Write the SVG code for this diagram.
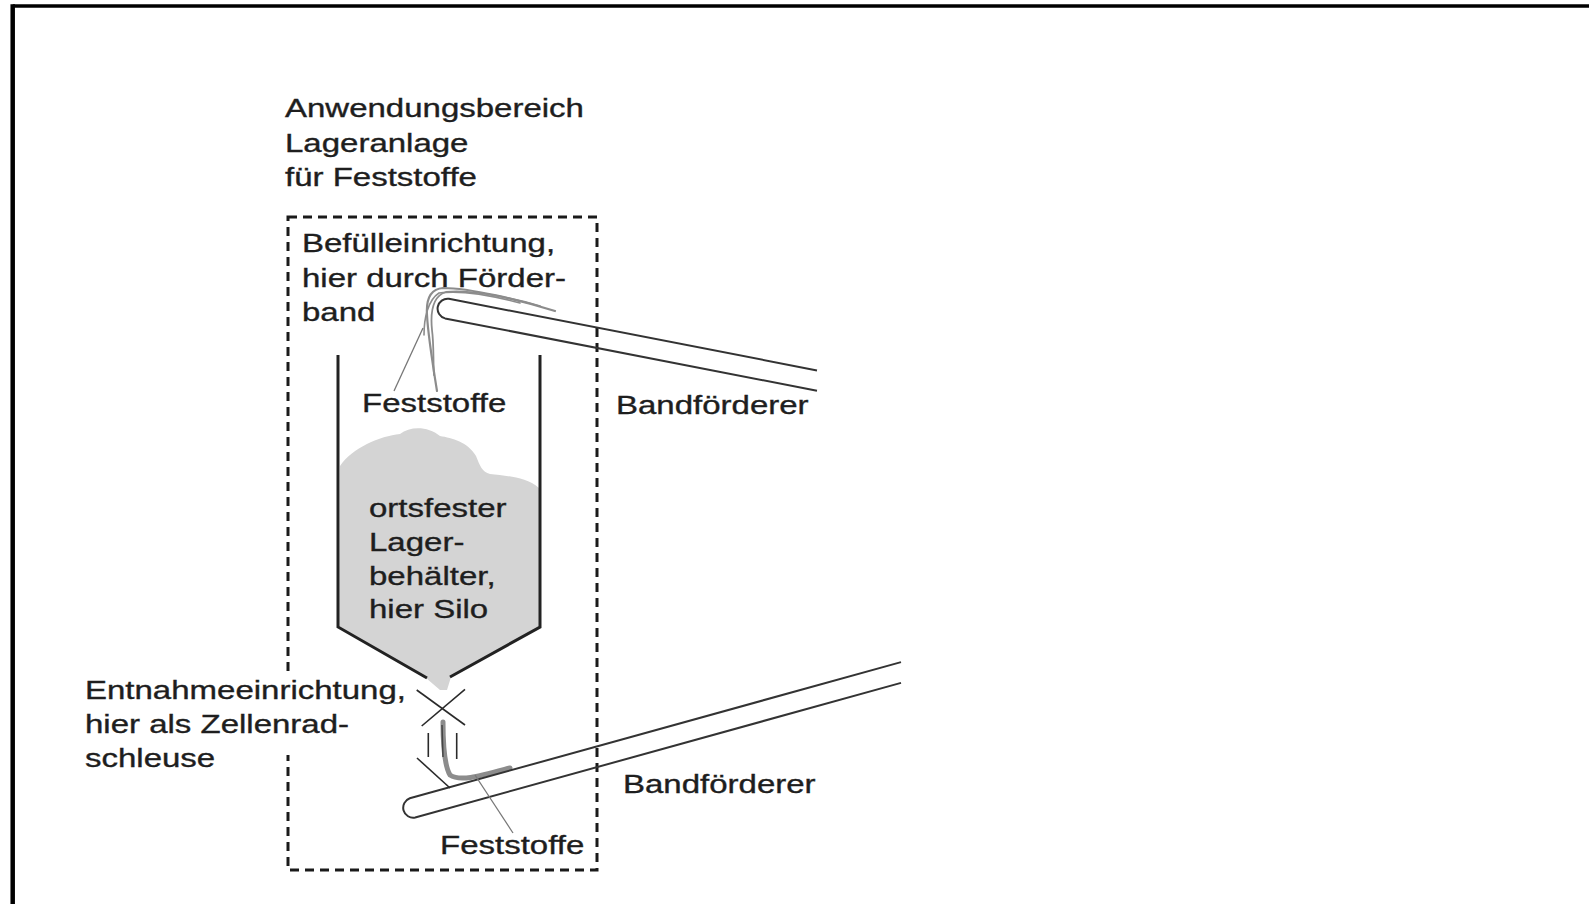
<svg xmlns="http://www.w3.org/2000/svg" width="1589" height="904" viewBox="0 0 1589 904">
<style>
  text { font-family: "Liberation Sans", Arial, sans-serif; font-size: 25px; fill: #1e1e1e; stroke: #1e1e1e; stroke-width: 0.35; }
  .wall { fill: none; stroke: #222; stroke-width: 3; stroke-linecap: butt; stroke-linejoin: miter; }
  .belt { fill: none; stroke: #333; stroke-width: 2; }
  .thin { fill: none; stroke: #2a2a2a; stroke-width: 1.6; }
  .stream { fill: none; stroke: #8c8c8c; stroke-linecap: round; }
  .leader { fill: none; stroke: #777; stroke-width: 1.3; }
  .dash { fill: none; stroke: #1a1a1a; stroke-width: 3; stroke-dasharray: 9 6; }
</style>
<rect x="0" y="0" width="1589" height="904" fill="#fff"/>
<g id="frame">
  <line x1="12.7" y1="6" x2="1589" y2="6" stroke="#000" stroke-width="3.5"/>
  <line x1="12.7" y1="4.2" x2="12.7" y2="904" stroke="#000" stroke-width="4.5"/>
</g>
<g id="scope">
  <rect class="dash" x="288" y="217" width="309" height="653"/>
  <rect x="282" y="671" width="12" height="84" fill="#fff"/>
  <text transform="translate(285 117) scale(1.32 1)">Anwendungsbereich</text>
  <text transform="translate(285 151.5) scale(1.32 1)">Lageranlage</text>
  <text transform="translate(285 186) scale(1.32 1)">für Feststoffe</text>
</g>
<g id="filling">
  <text transform="translate(302 252) scale(1.32 1)">Befülleinrichtung,</text>
  <text transform="translate(302 286.5) scale(1.32 1)">hier durch Förder-</text>
  <text transform="translate(302 321) scale(1.32 1)">band</text>
</g>
<g id="conveyor-top">
  <path class="belt" d="M 817 370.4 L 448.9 298.8 A 10 10 0 0 0 445.1 318.4 L 817 390.7"/>
  <path class="stream" stroke-width="2.2" d="M 555 311 C 520 300 470 288 443 288 C 430 289 426 300 427 315 C 428 335 432 360 437 391"/>
  <path class="stream" stroke-width="1.8" stroke="#a0a0a0" d="M 540 306 C 505 296 465 289 446 292 C 433 296 430 310 432 330 C 434 345 433 360 434 375"/>
  <path class="stream" stroke-width="1.6" stroke="#999" d="M 520 303 C 490 295 460 290 439 293 C 428 300 424 318 424 335"/>
  <text transform="translate(616 414) scale(1.32 1)">Bandförderer</text>
</g>
<g id="silo">
  <path fill="#d4d4d4" d="M 340 466 C 352 448 380 436 400 434 C 410 426 428 426 440 436 C 452 438 468 442 476 456 C 480 466 482 472 490 474 C 505 476 525 476 539 488 L 539 627 L 451 677 L 447 690 L 440 690 L 426 678 L 339 627 Z"/>
  <path class="wall" d="M 427 678 L 338 627 L 338 355"/>
  <path class="wall" d="M 450 677 L 540 627 L 540 355"/>
  <text transform="translate(362 412) scale(1.32 1)">Feststoffe</text>
  <text transform="translate(369 517) scale(1.32 1)">ortsfester</text>
  <text transform="translate(369 551) scale(1.32 1)">Lager-</text>
  <text transform="translate(369 585) scale(1.32 1)">behälter,</text>
  <text transform="translate(369 618) scale(1.32 1)">hier Silo</text>
</g>
<g id="valve">
  <line class="thin" x1="416.7" y1="690" x2="465" y2="725"/>
  <line class="thin" x1="465" y1="689.3" x2="421.7" y2="726"/>
  <line class="thin" x1="428.3" y1="733" x2="428.3" y2="757"/>
  <line class="thin" x1="456.7" y1="733" x2="456.7" y2="759"/>
  <path class="stream" stroke-width="5" stroke="#a8a8a8" d="M 443 722 C 443 745 444 765 450 775 C 460 782 480 776 510 768"/>
  <line x1="442" y1="725" x2="443" y2="757" stroke="#444" stroke-width="1.5"/>
  <text transform="translate(85 699) scale(1.32 1)">Entnahmeeinrichtung,</text>
  <text transform="translate(85 733) scale(1.32 1)">hier als Zellenrad-</text>
  <text transform="translate(85 767) scale(1.32 1)">schleuse</text>
</g>
<g id="conveyor-bottom">
  <path class="belt" d="M 901 662.1 L 409.8 798.3 A 10 10 0 0 0 415.2 817.5 L 901 682.9"/>
  <line class="thin" x1="417" y1="758" x2="450" y2="788"/>
  <text transform="translate(623 793) scale(1.32 1)">Bandförderer</text>
  <text transform="translate(440 854) scale(1.32 1)">Feststoffe</text>
</g>
<g id="connectors">
  <line class="leader" x1="394" y1="391" x2="423" y2="328"/>
  <line class="leader" x1="475" y1="775" x2="513" y2="833"/>
</g>
</svg>
